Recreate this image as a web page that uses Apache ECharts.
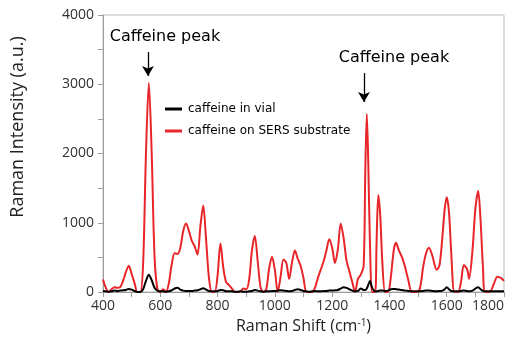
<!DOCTYPE html>
<html>
<head>
<meta charset="utf-8">
<script src="https://cdn.jsdelivr.net/npm/echarts@6/dist/echarts.min.js"></script>
<style>
  html, body { margin: 0; padding: 0; background: #fff; }
  #chart { width: 516px; height: 342px; }
</style>
</head>
<body>
<div id="chart"></div>
<script>
// Raman shift (cm-1)
const shift = [
  400, 410, 420, 430, 440, 450, 460, 470, 480, 490,
  500, 510, 520, 530, 540, 550, 560, 570, 580, 590,
  600, 610, 620, 630, 640, 650, 660, 670, 680, 690,
  700, 710, 720, 730, 740, 750, 760, 770, 780, 790,
  800, 810, 820, 830, 840, 850, 860, 870, 880, 890,
  900, 910, 920, 930, 940, 950, 960, 970, 980, 990,
  1000, 1010, 1020, 1030, 1040, 1050, 1060, 1070, 1080, 1090,
  1100, 1110, 1120, 1130, 1140, 1150, 1160, 1170, 1180, 1190,
  1200, 1210, 1220, 1230, 1240, 1250, 1260, 1270, 1280, 1290,
  1300, 1310, 1316, 1321, 1326, 1332, 1340, 1350, 1355, 1361,
  1368, 1375, 1385, 1395, 1405, 1415, 1423, 1433, 1443, 1454,
  1466, 1478, 1490, 1505, 1518, 1528, 1538, 1550, 1565, 1575,
  1585, 1593, 1600, 1608, 1616, 1627, 1640, 1650, 1660, 1672,
  1678, 1690, 1700, 1710, 1718, 1726, 1734, 1750, 1763, 1777,
  1790, 1800
];

const sers = [
  180, 60, 0, 40, 70, 60, 70, 160, 290, 380,
  260, 130, 0, 0, 400, 2000, 3020, 2000, 500, 40,
  0, 40, 0, 130, 400, 560, 550, 640, 880, 990,
  880, 740, 660, 540, 950, 1250, 750, 200, 0, 0,
  240, 700, 350, 140, 100, 50, 0, 0, 10, 50,
  40, 170, 600, 810, 450, 70, 0, 40, 340, 510,
  320, 0, 220, 470, 420, 190, 430, 600, 480, 380,
  200, 0, 0, 0, 60, 200, 320, 440, 600, 760,
  640, 420, 620, 990, 780, 460, 300, 150, 0, 190,
  250, 380, 1800, 2570, 1900, 700, 0, 0, 700, 1400,
  1100, 450, 0, 0, 220, 600, 710, 600, 510, 370,
  170, 0, 0, 30, 370, 560, 640, 520, 320, 390,
  800, 1200, 1370, 1150, 550, 0, 0, 150, 390, 320,
  190, 600, 1200, 1460, 1050, 400, 0, 0, 100, 220,
  200, 160
];

const vial = [
  15, 10, 5, 10, 20, 15, 20, 25, 30, 45,
  35, 15, 0, 0, 40, 160, 250, 170, 60, 20,
  10, 10, 5, 10, 25, 50, 60, 35, 20, 15,
  15, 15, 20, 25, 40, 55, 35, 15, 10, 10,
  15, 30, 25, 10, 10, 10, 5, 5, 10, 5,
  5, 10, 15, 30, 20, 10, 5, 10, 10, 15,
  15, 20, 25, 20, 15, 10, 15, 30, 40, 30,
  15, 10, 5, 10, 15, 10, 10, 15, 15, 20,
  20, 25, 30, 50, 70, 60, 40, 20, 10, 15,
  50, 30, 30, 50, 100, 160, 60, 10, 10, 15,
  20, 20, 15, 20, 40, 45, 40, 35, 30, 20,
  15, 10, 10, 10, 15, 20, 20, 15, 10, 15,
  20, 40, 70, 40, 15, 10, 10, 15, 20, 15,
  10, 20, 50, 70, 40, 15, 10, 10, 10, 10,
  10, 10
];

const seriesNames = ['caffeine in vial', 'caffeine on SERS substrate'];
const peakLabel = 'Caffeine peak';
// arrows: [x, from, to]
const peakArrows = [[557, 3466, 3119], [1311, 3162, 2744]];

const textFont = 'DejaVu Sans, Verdana, sans-serif';
const axisFont = 'Open Sans, Liberation Sans, sans-serif';

const chart = echarts.init(document.getElementById('chart'), null, { renderer: 'canvas' });

const zip = (ys) => shift.map((x, i) => [x, ys[i]]);

const option = {
  animation: false,
  backgroundColor: '#fff',
  grid: {
    left: 103, right: 12, top: 15, bottom: 50,
    outerBoundsMode: 'none',
    containLabel: false,
    show: true, borderColor: '#bdbdbd', borderWidth: 1
  },
  legend: {
    orient: 'vertical',
    left: 160,
    top: 98,
    itemWidth: 17,
    itemHeight: 3,
    itemGap: 10,
    textStyle: { fontFamily: textFont, fontSize: 12, color: '#000', padding: [0, 0, 0, 1] },
    data: [
      { name: seriesNames[0], icon: 'rect' },
      { name: seriesNames[1], icon: 'rect' }
    ]
  },
  xAxis: {
    type: 'value',
    min: 400,
    max: 1800,
    interval: 200,
    name: 'Raman Shift (cm{sup|-1})',
    nameLocation: 'middle',
    nameGap: 24,
    nameTextStyle: {
      fontFamily: axisFont, fontSize: 16, color: '#222',
      rich: { sup: { fontFamily: axisFont, fontSize: 10, verticalAlign: 'top', padding: [0, 0, 8, 0], color: '#222' } }
    },
    axisLine: { show: true, lineStyle: { color: '#9e9e9e', width: 1 } },
    axisTick: { show: true, length: 5, lineStyle: { color: '#9e9e9e' } },
    minorTick: { show: true, splitNumber: 2, length: 5, lineStyle: { color: '#9e9e9e' } },
    axisLabel: {
      fontFamily: axisFont, fontSize: 14, color: '#333', margin: 7,
      alignMaxLabel: 'right',
      formatter: (v) => String(v)
    },
    splitLine: { show: false }
  },
  yAxis: {
    type: 'value',
    min: 0,
    max: 4000,
    interval: 1000,
    axisLine: { show: true, lineStyle: { color: '#9e9e9e', width: 1 } },
    axisTick: { show: true, length: 5, lineStyle: { color: '#9e9e9e' } },
    minorTick: { show: true, splitNumber: 2, length: 5, lineStyle: { color: '#9e9e9e' } },
    axisLabel: { fontFamily: axisFont, fontSize: 14, color: '#333', margin: 9, formatter: (v) => String(v) },
    splitLine: { show: false }
  },
  graphic: [{
    type: 'text',
    x: 18,
    y: 127,
    rotation: Math.PI / 2,
    style: {
      text: 'Raman Intensity (a.u.)',
      fontFamily: axisFont,
      fontSize: 18,
      fill: '#222',
      textAlign: 'center',
      textVerticalAlign: 'middle'
    }
  }],
  series: [
    {
      name: seriesNames[0],
      type: 'line',
      data: zip(vial),
      showSymbol: false,
      smooth: 0.3,
      z: 3,
      color: '#000',
      lineStyle: { color: '#000', width: 2 }
    },
    {
      name: seriesNames[1],
      type: 'line',
      data: zip(sers),
      showSymbol: false,
      smooth: 0.3,
      z: 2,
      color: '#e8262a',
      lineStyle: { color: '#e8262a', width: 2 },
      markLine: {
        silent: true,
        symbol: ['none', 'arrow'],
        symbolSize: [9, 10],
        lineStyle: { color: '#000', width: 1.3, type: 'solid' },
        label: {
          show: true,
          position: 'start',
          formatter: peakLabel,
          fontFamily: textFont,
          fontSize: 16,
          color: '#000',
          distance: 7
        },
        data: peakArrows.map((a, i) => [
          { coord: [a[0], a[1]], label: { offset: [i === 0 ? 17 : 30, 0] } },
          { coord: [a[0], a[2]] }
        ])
      }
    }
  ]
};

chart.setOption(option);
</script>
</body>
</html>
